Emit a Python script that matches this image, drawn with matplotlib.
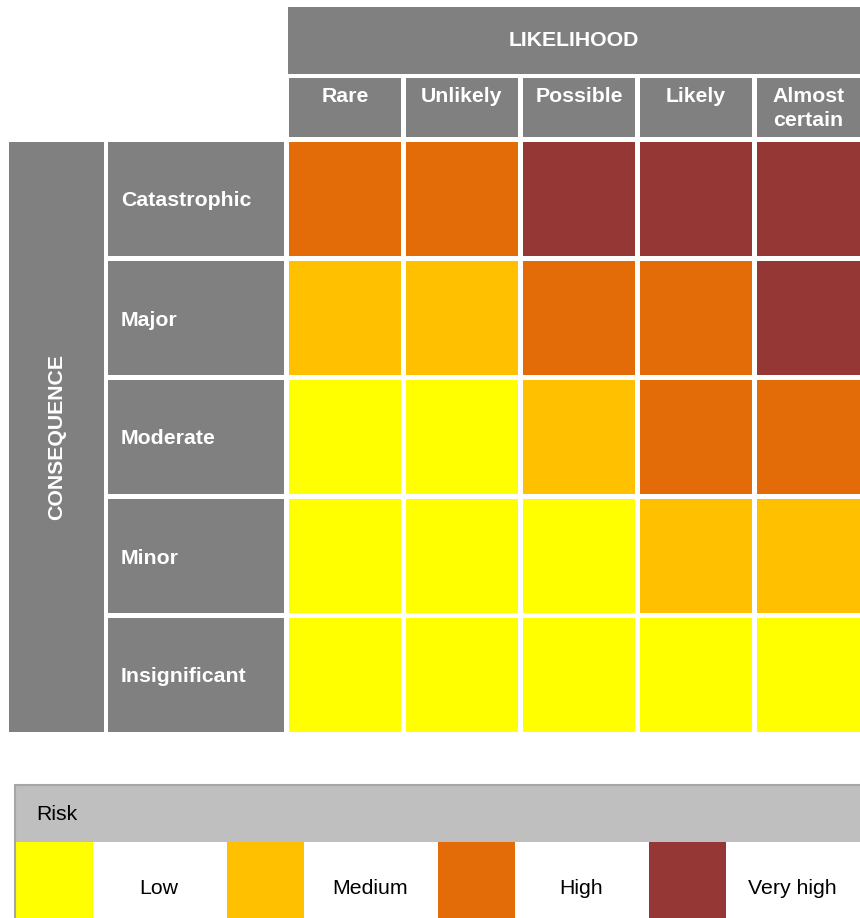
import matplotlib
matplotlib.use("Agg")
from matplotlib import pyplot as plt
import matplotlib.patches as patches

plt.rcParams['font.family'] = ['Liberation Sans', 'DejaVu Sans']

# data
likelihood = ['Rare', 'Unlikely', 'Possible', 'Likely', 'Almost\ncertain']
consequence = ['Catastrophic', 'Major', 'Moderate', 'Minor', 'Insignificant']
risk_levels = ['Low', 'Medium', 'High', 'Very high']
risk_colors = ['#FFFF00', '#FFC000', '#E36C09', '#953735']
# rows = consequence (top to bottom), cols = likelihood; values index risk_levels
matrix = [
    [2, 2, 3, 3, 3],
    [1, 1, 2, 2, 3],
    [0, 0, 1, 2, 2],
    [0, 0, 0, 1, 1],
    [0, 0, 0, 0, 0],
]

GREY = '#808080'
W, H = 860, 918
FS = 15.3

fig = plt.figure(figsize=(W / 100, H / 100), dpi=100)
ax = fig.add_axes([0, 0, 1, 1])
ax.set_xlim(0, W)
ax.set_ylim(H, 0)
ax.axis('off')

def box(x, y, w, h, color, **kw):
    ax.add_patch(patches.Rectangle((x, y), w, h, facecolor=color, edgecolor='none', **kw))

# grid geometry (pixels)
gx0, gy0 = 289, 142
cw, ch = 112, 114
gap_x, gap_y = 5, 5
step_x, step_y = cw + gap_x, ch + gap_y

# likelihood header
box(288, 7, W - 288, 67, GREY)
ax.text((288 + W) / 2, 41, 'LIKELIHOOD', color='white', fontsize=FS,
        fontweight='bold', ha='center', va='center')

for j, lab in enumerate(likelihood):
    x = gx0 + j * step_x
    w = min(cw, W - x)
    box(x, 78, w, 59, GREY)
    ax.text(x + cw / 2 if j < len(likelihood) - 1 else x + w / 2, 87, lab,
            color='white', fontsize=FS, fontweight='bold', ha='center', va='top',
            linespacing=1.3)

# consequence header
nrows = len(consequence)
grid_h = nrows * step_y - gap_y
box(9, gy0, 95, grid_h, GREY)
ax.text(57, gy0 + grid_h / 2, 'CONSEQUENCE', color='white', fontsize=FS,
        fontweight='bold', ha='center', va='center', rotation=90)

for i, lab in enumerate(consequence):
    y = gy0 + i * step_y
    box(108, y, 176, ch, GREY)
    ax.text(121, y + ch / 2 + 2, lab, color='white', fontsize=FS,
            fontweight='bold', ha='left', va='center')

# risk cells
for i, row in enumerate(matrix):
    for j, lvl in enumerate(row):
        x = gx0 + j * step_x
        y = gy0 + i * step_y
        box(x, y, min(cw, W - x), ch, risk_colors[lvl])

# legend
ly0, ly1 = 785, 842
box(14, ly0, W - 14, ly1 - ly0, '#BFBFBF')
ax.plot([14, W], [ly0, ly0], color='#A6A6A6', lw=1.5, solid_capstyle='butt')
ax.plot([15, 15], [ly0, H], color='#A6A6A6', lw=1.5, solid_capstyle='butt')
ax.text(36, (ly0 + ly1) / 2 + 1, 'Risk', color='black', fontsize=FS,
        ha='left', va='center')

seg = 211
for k, (lab, col) in enumerate(zip(risk_levels, risk_colors)):
    sx = 16 + k * seg
    box(sx, ly1, 77, H - ly1, col)
    ax.text(sx + 143, 889, lab, color='black', fontsize=FS,
            ha='center', va='center')

fig.savefig('out.png', dpi=100, facecolor='white')
